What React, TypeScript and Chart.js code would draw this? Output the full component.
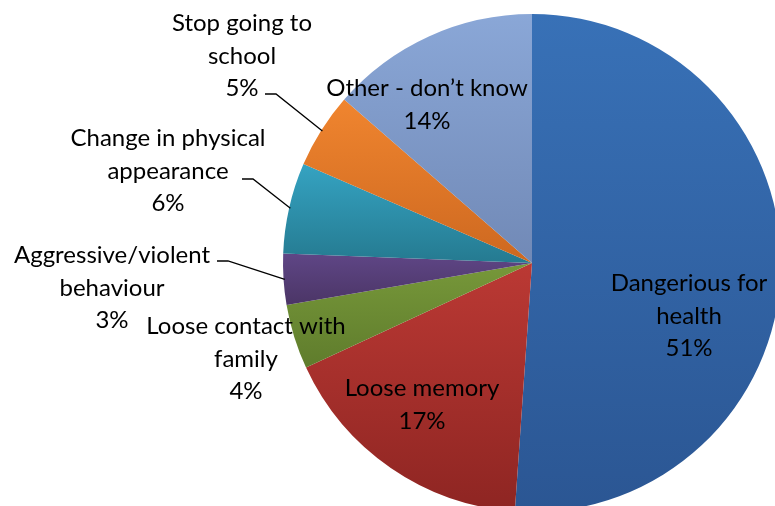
import React, { useEffect, useRef } from "react";
import { Chart, registerables } from "chart.js";

Chart.register(...registerables);

// ---- data ----
const categories = [
  "Dangerious for\nhealth",
  "Loose memory",
  "Loose contact with\nfamily",
  "Aggressive/violent\nbehaviour",
  "Change in physical\nappearance",
  "Stop going to\nschool",
  "Other - don’t know",
];
const values = [51.1, 17.0, 4.2, 3.3, 5.9, 4.9, 13.6];

// ---- styles ----
const topColors = ["#3871B7", "#BB3934", "#77983A", "#5F4686", "#35A3C2", "#F0852F", "#8AA7D7"];
const bottomColors = ["#2B5693", "#8E2522", "#5F7C2C", "#4B3566", "#257A90", "#CD6820", "#7189B6"];

// label block centers relative to pie center (px at radius 249)
const labelOffsets: [number, number][] = [
  [157, 53],
  [-110, 142],
  [-286, 96],
  [-420, 25],
  [-364, -92],
  [-290, -207],
  [-105, -158],
];
// leader line starts relative to pie center (null = inside label)
const leaderStarts: ([number, number] | null)[] = [
  null,
  null,
  null,
  [-315, -2],
  [-290, -84],
  [-267, -169],
  null,
];

const FONT = "24px Lato, 'Open Sans', sans-serif";
const LINE_H = 32.5;

const labelPlugin = {
  id: "pieLabels",
  afterDatasetsDraw(chart: any) {
    const meta = chart.getDatasetMeta(0);
    const ctx = chart.ctx as CanvasRenderingContext2D;
    const total = values.reduce((a, b) => a + b, 0);
    ctx.save();
    meta.data.forEach((arc: any, i: number) => {
      const p = arc.getProps(["x", "y", "startAngle", "endAngle", "outerRadius"], true);
      const s = p.outerRadius / 249;
      const lines = categories[i].split("\n").concat([Math.round((values[i] / total) * 100) + "%"]);
      const bx = p.x + labelOffsets[i][0] * s;
      const by = p.y + labelOffsets[i][1] * s;
      ctx.font = FONT;
      ctx.fillStyle = "#000";
      ctx.textAlign = "center";
      ctx.textBaseline = "middle";
      lines.forEach((ln, k) => {
        ctx.fillText(ln, bx, by + (k - (lines.length - 1) / 2) * LINE_H);
      });
      const ls = leaderStarts[i];
      if (ls) {
        const sx = p.x + ls[0] * s;
        const sy = p.y + ls[1] * s;
        const mid = (p.startAngle + p.endAngle) / 2;
        const ex = p.x + Math.cos(mid) * p.outerRadius * 0.995;
        const ey = p.y + Math.sin(mid) * p.outerRadius * 0.995;
        ctx.beginPath();
        ctx.strokeStyle = "#000";
        ctx.lineWidth = 1.3;
        ctx.moveTo(sx, sy);
        ctx.lineTo(sx + 11, sy);
        ctx.lineTo(ex, ey);
        ctx.stroke();
      }
    });
    ctx.restore();
  },
};

function sliceGradient(c: any) {
  const i = c.dataIndex;
  const chart = c.chart;
  const area = chart.chartArea;
  if (i === undefined) return topColors[0];
  if (!area) return topColors[i];
  const cx = (area.left + area.right) / 2;
  const cy = (area.top + area.bottom) / 2;
  const r = Math.min(area.right - area.left, area.bottom - area.top) / 2;
  const total = values.reduce((a, b) => a + b, 0);
  let cum = 0;
  for (let k = 0; k < i; k++) cum += values[k];
  const a0 = -Math.PI / 2 + (2 * Math.PI * cum) / total;
  const a1 = a0 + (2 * Math.PI * values[i]) / total;
  const ys = [cy, cy + r * Math.sin(a0), cy + r * Math.sin(a1)];
  [Math.PI / 2, -Math.PI / 2, (3 * Math.PI) / 2].forEach((k) => {
    if (k >= a0 && k <= a1) ys.push(cy + r * Math.sin(k));
  });
  const ymin = Math.min(...ys);
  const ymax = Math.max(...ys);
  const g = chart.ctx.createLinearGradient(0, ymin, 0, ymax + 0.01);
  g.addColorStop(0, topColors[i]);
  g.addColorStop(1, bottomColors[i]);
  return g;
}

export default function App() {
  const ref = useRef<HTMLCanvasElement | null>(null);
  useEffect(() => {
    if (!ref.current) return;
    const chart = new Chart(ref.current, {
      type: "pie",
      data: {
        labels: categories,
        datasets: [
          {
            data: values,
            backgroundColor: sliceGradient as any,
            borderWidth: 0,
          },
        ],
      },
      options: {
        responsive: false,
        animation: false,
        devicePixelRatio: 1,
        layout: { padding: { left: 283, top: 14, right: 19, bottom: 28 } },
        plugins: { legend: { display: false }, tooltip: { enabled: false } },
      },
      plugins: [labelPlugin],
    });
    return () => chart.destroy();
  }, []);
  return (
    <div
      style={{
        position: "fixed",
        left: 0,
        top: 0,
        width: 775,
        height: 506,
        overflow: "hidden",
        background: "#fff",
      }}
    >
      <canvas ref={ref} width={800} height={540} style={{ width: 800, height: 540, display: "block" }} />
    </div>
  );
}
